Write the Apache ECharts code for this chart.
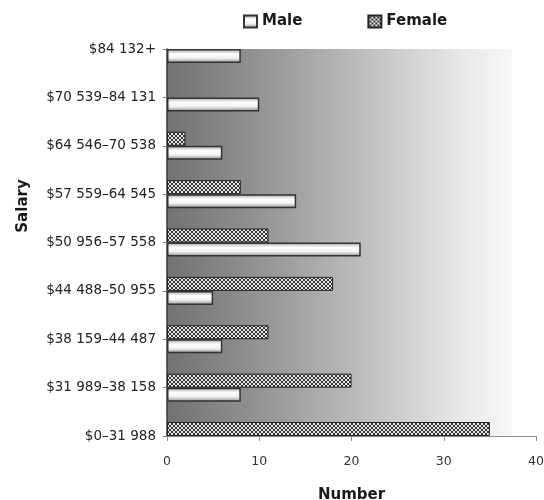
<!DOCTYPE html>
<html>
<head>
<meta charset="utf-8">
<script src="https://cdn.jsdelivr.net/npm/echarts@6/dist/echarts.min.js"></script>
<style>
  html, body { margin: 0; padding: 0; background: #ffffff; }
  #chart { width: 544px; height: 500px; }
</style>
</head>
<body>
<div id="chart"></div>
<script>
// Salary bands, bottom to top
const salaryBands = [
  '$0–31 988',
  '$31 989–38 158',
  '$38 159–44 487',
  '$44 488–50 955',
  '$50 956–57 558',
  '$57 559–64 545',
  '$64 546–70 538',
  '$70 539–84 131',
  '$84 132+'
];
const maleCounts   = [0, 8, 6, 5, 21, 14, 6, 10, 8];
const femaleCounts = [35, 20, 11, 18, 11, 8, 2, 0, 0];
const numberTicks  = [0, 10, 20, 30, 40];

const FONT = '"DejaVu Sans", sans-serif';

// speckled fill used for the female bars
function makeSpeckle() {
  const c = document.createElement('canvas');
  c.width = 4; c.height = 4;
  const g = c.getContext('2d');
  g.fillStyle = '#333333';
  g.fillRect(0, 0, 4, 4);
  g.fillStyle = '#e8e8e8';
  const light = [[1,0],[2,0],[0,1],[3,1],[0,2],[3,2],[1,3],[2,3]];
  light.forEach(([x, y]) => g.fillRect(x, y, 1, 1));
  return c;
}
const speckle = { image: makeSpeckle(), repeat: 'repeat' };

// tube-like shading for the male bars
const tube = new echarts.graphic.LinearGradient(0, 0, 0, 1, [
  { offset: 0, color: '#9c9c9c' },
  { offset: 0.35, color: '#ffffff' },
  { offset: 0.65, color: '#f2f2f2' },
  { offset: 1, color: '#8a8a8a' }
]);

// plot-area wash, dark at the left fading to white
const wash = new echarts.graphic.LinearGradient(0, 0, 1, 0, [
  { offset: 0, color: '#727272' },
  { offset: 0.25, color: '#939393' },
  { offset: 0.52, color: '#bcbcbc' },
  { offset: 0.8, color: '#e8e8e8' },
  { offset: 0.935, color: '#f8f8f8' },
  { offset: 0.936, color: '#ffffff' },
  { offset: 1, color: '#ffffff' }
]);

// empty bars carry no outline
function barData(values) {
  return values.map(v => v === 0 ? { value: v, itemStyle: { borderWidth: 0 } } : v);
}

const chart = echarts.init(document.getElementById('chart'));
chart.setOption({
  animation: false,
  backgroundColor: '#ffffff',
  textStyle: { fontFamily: FONT },
  legend: {
    data: ['Male', 'Female'],
    icon: 'rect',
    left: 243,
    top: 14,
    padding: 0,
    itemWidth: 13,
    itemHeight: 12,
    itemGap: 65,
    textStyle: { fontFamily: FONT, fontWeight: 'bold', fontSize: 15, color: '#1a1a1a' }
  },
  grid: {
    left: 167,
    right: 8,
    top: 49,
    bottom: 64,
    outerBoundsMode: 'none',
    containLabel: false,
    show: true,
    backgroundColor: wash,
    borderWidth: 0
  },
  xAxis: {
    type: 'value',
    min: numberTicks[0],
    max: numberTicks[numberTicks.length - 1],
    interval: numberTicks[1] - numberTicks[0],
    name: 'Number',
    nameLocation: 'middle',
    nameGap: 52,
    nameTextStyle: { fontFamily: FONT, fontWeight: 'bold', fontSize: 15, color: '#1a1a1a' },
    splitLine: { show: false },
    axisLine: { show: true, lineStyle: { color: '#8c8c8c', width: 1 } },
    axisTick: { show: true, length: 5, lineStyle: { color: '#8c8c8c' } },
    axisLabel: { fontFamily: FONT, fontSize: 12.5, color: '#333333', margin: 19 }
  },
  yAxis: {
    type: 'category',
    data: salaryBands,
    boundaryGap: false,
    axisLine: { show: true, lineStyle: { color: '#3a3a3a', width: 1.5 } },
    axisTick: { show: true, length: 4, lineStyle: { color: '#777777' } },
    axisLabel: { fontFamily: FONT, fontSize: 13.5, color: '#222222', margin: 11 },
    splitLine: { show: false }
  },
  graphic: [{
    type: 'text',
    x: 23,
    y: 206,
    rotation: Math.PI / 2,
    style: {
      text: 'Salary',
      fontFamily: FONT,
      fontWeight: 'bold',
      fontSize: 15,
      fill: '#1a1a1a',
      align: 'center',
      verticalAlign: 'middle'
    }
  }],
  series: [
    {
      name: 'Female',
      type: 'bar',
      data: barData(femaleCounts),
      barWidth: 14,
      barGap: '0%',
      itemStyle: { color: speckle, borderColor: '#222222', borderWidth: 1 }
    },
    {
      name: 'Male',
      type: 'bar',
      data: barData(maleCounts),
      barWidth: 14,
      barGap: '0%',
      itemStyle: { color: tube, borderColor: '#333333', borderWidth: 1.5 }
    }
  ]
});
</script>
</body>
</html>
